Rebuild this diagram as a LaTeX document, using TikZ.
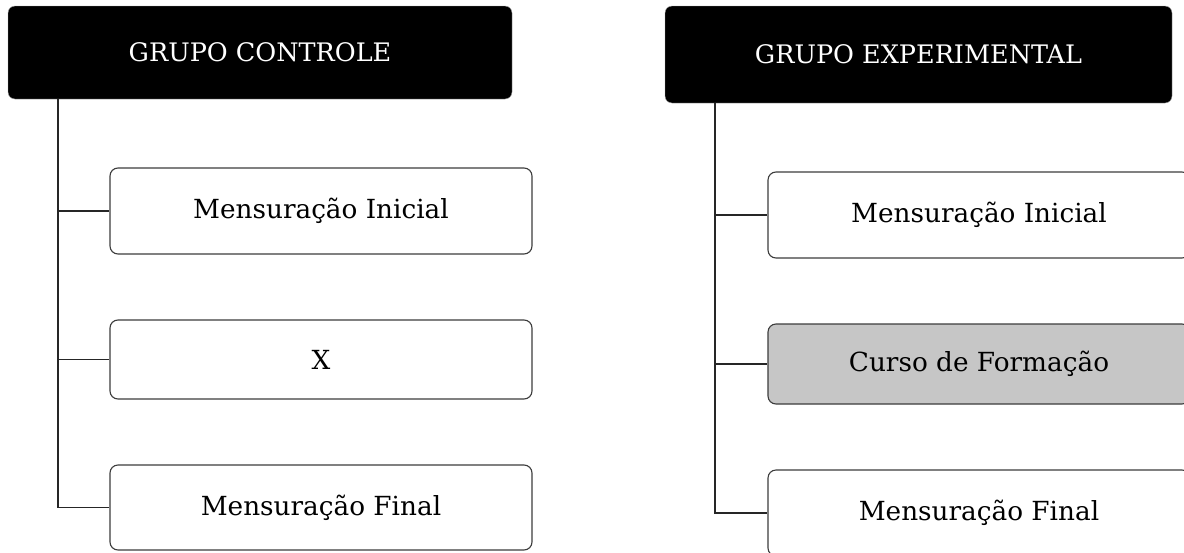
\documentclass[tikz,border=0pt]{standalone}
\usepackage{fontspec}
\setmainfont{DejaVu Serif}
\definecolor{boxline}{HTML}{3C3C3C}
\definecolor{boxgray}{HTML}{C6C6C6}
\begin{document}
\begin{tikzpicture}[x=1pt,y=-1pt,
  header/.style={draw=gray!70,fill=black,rounded corners=7pt,text=white,
    font=\fontsize{25.5}{30}\selectfont,inner sep=0pt},
  item/.style={draw=boxline,line width=1.1pt,fill=white,rounded corners=8pt,
    minimum width=422pt,font=\fontsize{26.3}{30}\selectfont,inner sep=0pt},
  link/.style={draw=black!85,line width=1.2pt}]
\useasboundingbox (0,0) rectangle (1184,552);
\clip (0,0) rectangle (1184,552);
% left group
\node[header,minimum width=504pt,minimum height=93pt] (hL) at (260,52.5) {GRUPO CONTROLE};
\node[item,minimum height=86pt] (bL1) at (321,211) {Mensuração Inicial};
\node[item,minimum height=79pt] (bL2) at (321,359.5) {X};
\node[item,minimum height=85pt] (bL3) at (321,507.5) {Mensuração Final};
\coordinate (sL) at (58,0);
\draw[link] (sL |- hL.south) |- (bL3.west);
\draw[link] (sL |- bL1.west) -- (bL1.west);
\draw[link] (sL |- bL2.west) -- (bL2.west);
% right group
\node[header,minimum width=507pt,minimum height=97pt] (hR) at (918.5,54.5) {GRUPO EXPERIMENTAL};
\node[item,minimum height=86pt] (bR1) at (979,215) {Mensuração Inicial};
\node[item,minimum height=80pt,fill=boxgray] (bR2) at (979,364) {Curso de Formação};
\node[item,minimum height=86pt] (bR3) at (979,513) {Mensuração Final};
\coordinate (sR) at (715,0);
\draw[link] (sR |- hR.south) |- (bR3.west);
\draw[link] (sR |- bR1.west) -- (bR1.west);
\draw[link] (sR |- bR2.west) -- (bR2.west);
\end{tikzpicture}
\end{document}
